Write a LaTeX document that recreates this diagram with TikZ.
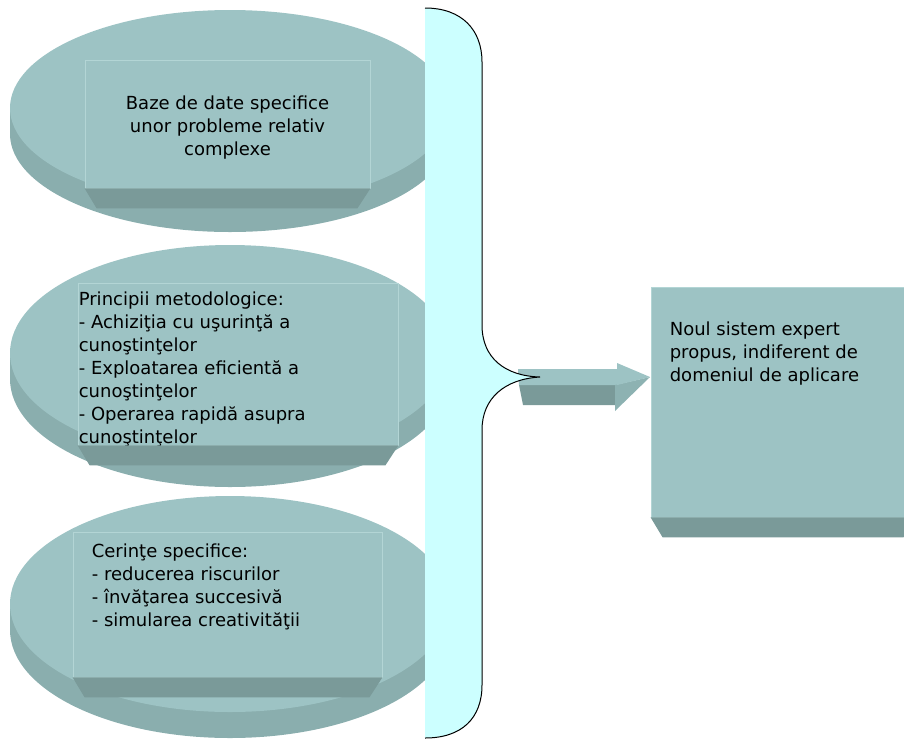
\documentclass[tikz,border=0pt]{standalone}
\usepackage{fontspec}
\setmainfont{DejaVu Sans}
\usetikzlibrary{positioning,calc}
\definecolor{facec}{HTML}{9DC3C4}
\definecolor{edgec}{HTML}{B3D5D5}
\definecolor{bevelc}{HTML}{7A9A99}
\definecolor{rimc}{HTML}{8AAEAE}
\definecolor{headc}{HTML}{8DB2B2}
\definecolor{panelc}{HTML}{CCFFFF}

\begin{document}
\begin{tikzpicture}[x=1pt,y=-1pt,
    face/.style={fill=facec,draw=edgec,line width=0.8pt,inner sep=0pt},
    txt/.style={font=\fontsize{18}{23}\selectfont,inner sep=0pt}]
  \useasboundingbox (0,0) rectangle (904,740);
  \clip (0,0) rectangle (904,740);

  \foreach \cy/\b in {108/98,353/108,604/108}{
    \fill[rimc] (230,\cy+26) ellipse [x radius=220pt,y radius=\b pt];
    \fill[rimc] (10,\cy) rectangle (450,\cy+26);
    \fill[facec] (230,\cy) ellipse [x radius=220pt,y radius=\b pt];
  }

  \node[face,minimum width=285,minimum height=128] (db) at (227.5,124) {};
  \node[txt,align=center,yshift=-4pt] (dbt) at (db)
    {Baze de date specifice\\unor probleme relativ\\complexe};

  \node[face,minimum width=320,minimum height=162] (princ) at (238,364) {};
  \node[txt,align=left,below right=9pt and 1pt of princ.north west] (princt)
    {Principii metodologice:\\- Achiziţia cu uşurinţă a\\cunoştinţelor\\- Exploatarea eficientă a\\cunoştinţelor\\- Operarea rapidă asupra\\cunoştinţelor};

  \node[face,minimum width=309,minimum height=145] (cer) at (227.5,604.5) {};
  \node[txt,align=left,below right=12pt and 19pt of cer.north west] (cert)
    {Cerinţe specifice:\\- reducerea riscurilor\\- învăţarea succesivă\\- simularea creativităţii};

  \node[face,minimum width=265,minimum height=230] (out) at (783.5,402) {};
  \node[txt,align=left,below right=35pt and 19pt of out.north west] (outt)
    {Noul sistem expert\\propus, indiferent de\\domeniul de aplicare};

  \foreach \n in {db,princ,cer,out}
    \fill[bevelc] (\n.south west) -- (\n.south east) -- ++(-13,20)
      -- ($(\n.south west)+(12,20)$) -- cycle;

  \coordinate (tip) at (540,377);
  \begin{scope}[shift={(tip)}]
    \fill[bevelc] (-21,8) -- (77,8) -- (77,28) -- (-17,28) -- cycle;
    \fill[facec] (-22,-8) -- (77,-8) -- (77,8) -- (-21,8) -- cycle;
    \fill[headc] (75,8) -- (110,0) -- (75,34) -- cycle;
    \fill[facec] (77,-14) -- (110,0) -- (77,8) -- cycle;
  \end{scope}

  \fill[panelc] (425,8) .. controls (462,8) and (482,30) .. (482,62)
    -- (482,325) .. controls (482,358) and (505,376) .. (tip)
    .. controls (505,379) and (482,398) .. (482,430)
    -- (482,685) .. controls (482,718) and (462,738) .. (425,738) -- cycle;
  \draw[line width=1pt] (425,8) .. controls (462,8) and (482,30) .. (482,62)
    -- (482,325) .. controls (482,358) and (505,376) .. (tip)
    .. controls (505,379) and (482,398) .. (482,430)
    -- (482,685) .. controls (482,718) and (462,738) .. (425,738);
\end{tikzpicture}
\end{document}
